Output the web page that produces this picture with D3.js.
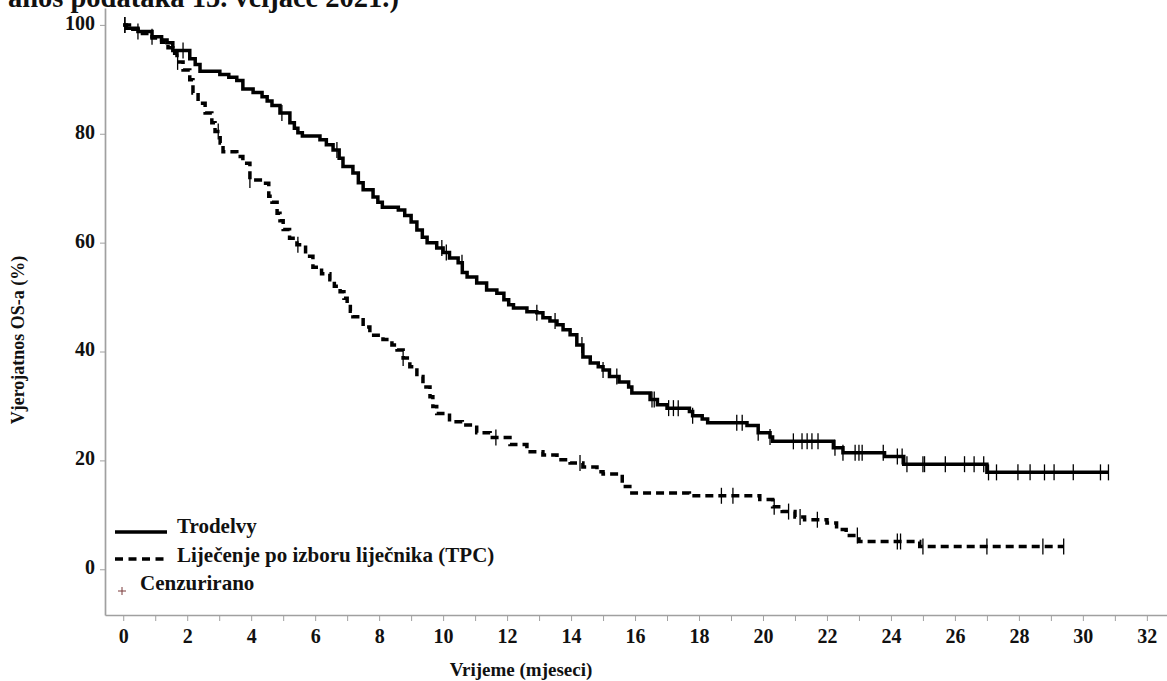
<!DOCTYPE html>
<html>
<head>
<meta charset="utf-8">
<script src="https://cdn.jsdelivr.net/npm/d3@7"></script>
<style>
  body { margin: 0; background: #fff; }
  svg { display: block; }
  text { font-family: "Liberation Serif", "Times New Roman", serif; font-weight: bold; fill: #111; }
  .axis path, .axis line { stroke: #a0a0a0; }
</style>
</head>
<body>
<svg width="1167" height="681"></svg>
<script>
// Kaplan-Meier steps: [months, % survival]
var trodelvySteps = [
  [0,100],[0.1,99.4],[0.46,98.8],[0.9,97.8],[1.2,97.2],[1.37,96.7],[1.55,95.3],[2.08,93.8],
  [2.25,92.7],[2.4,91.5],[3.02,90.9],[3.3,90.4],[3.55,89.8],[3.74,88.2],[4.06,87.6],[4.34,86.8],
  [4.5,86.0],[4.65,85.2],[4.9,83.8],[5.21,82.0],[5.35,81.0],[5.46,80.2],[5.6,79.6],[6.15,78.9],
  [6.35,78.0],[6.56,77.0],[6.75,75.5],[6.87,74.0],[7.18,72.8],[7.35,71.0],[7.5,69.7],[7.81,68.4],
  [7.96,67.4],[8.1,66.5],[8.6,66.0],[8.8,65.0],[9.0,63.8],[9.18,62.3],[9.35,61.0],[9.5,60.0],
  [9.8,59.0],[10.0,58.2],[10.2,57.2],[10.47,56.3],[10.6,54.5],[10.75,53.7],[11.05,52.6],[11.36,51.3],
  [11.68,50.7],[11.9,49.5],[12.05,48.6],[12.2,48.0],[12.62,47.3],[12.93,47.1],[13.12,46.2],[13.34,45.6],
  [13.56,44.9],[13.75,44.0],[13.97,43.1],[14.18,41.2],[14.37,39.0],[14.6,37.9],[14.85,37.2],[15.0,36.6],
  [15.2,35.4],[15.5,34.4],[15.8,33.5],[15.9,32.4],[16.47,31.2],[16.7,30.2],[17.0,29.6],[17.7,29.0],
  [17.8,28.2],[18.1,27.6],[18.27,26.9],[19.5,26.4],[19.85,25.1],[20.22,24.3],[20.3,23.5],[22.2,22.3],
  [22.5,21.4],[23.8,20.7],[24.4,19.3],[27.0,17.8],[30.8,17.8]
];
var trodelvyCensored = [
  0.05,0.46,0.9,1.87,4.96,6.68,9.96,10.1,10.59,12.93,13.5,14.34,15.0,15.43,16.53,16.6,17.05,17.2,
  17.35,17.8,19.18,19.35,19.85,20.22,20.95,21.22,21.38,21.53,21.72,22.25,22.5,22.88,23.0,23.1,23.76,
  24.2,24.35,24.5,25.0,25.05,25.7,26.3,26.6,26.9,27.05,27.3,27.97,28.35,28.8,29.1,29.7,30.55,30.8
];

var tpcSteps = [
  [0,100],[0.3,99.2],[0.6,98.4],[0.9,97.6],[1.2,96.8],[1.4,95.8],[1.55,94.8],[1.68,93.2],[1.87,91.7],
  [2.08,89.9],[2.18,87.5],[2.34,85.6],[2.56,83.8],[2.77,82.0],[2.87,80.4],[3.03,78.3],[3.12,76.7],
  [3.55,75.8],[3.74,74.6],[3.96,71.5],[4.37,70.9],[4.55,68.5],[4.65,67.4],[4.81,65.4],[4.9,64.0],
  [5.0,62.4],[5.2,60.8],[5.43,59.6],[5.7,57.5],[5.93,55.5],[6.2,54.3],[6.46,53.2],[6.6,52.0],[6.78,51.0],
  [6.9,49.8],[7.0,48.6],[7.1,47.4],[7.18,46.4],[7.5,44.5],[7.71,43.0],[8.12,42.2],[8.4,41.2],[8.56,40.3],
  [8.75,38.8],[8.96,37.2],[9.18,35.4],[9.37,33.5],[9.59,31.7],[9.68,29.9],[9.8,28.6],[10.2,27.1],
  [10.6,26.5],[11.05,25.1],[11.47,24.2],[12.09,22.9],[12.62,21.6],[13.12,21.0],[13.56,20.1],[13.97,19.5],
  [14.37,18.8],[14.81,17.9],[15.0,17.5],[15.6,15.2],[15.9,14.0],[17.7,13.5],[19.9,12.8],[20.3,11.5],
  [20.6,10.6],[21.0,9.6],[21.3,9.1],[22.0,8.5],[22.3,7.3],[22.6,6.2],[23.0,5.1],[24.9,4.2],[29.4,4.2]
];
var tpcCensored = [
  0.05,1.7,2.97,3.96,5.46,8.75,11.65,14.28,18.7,19.06,20.35,20.8,21.16,21.7,22.95,24.2,24.3,25.0,
  27.0,28.75,29.4
];

var xTicks = d3.range(0, 33);
var yTicks = [0, 20, 40, 60, 80, 100];
var legendLabels = ['Trodelvy', 'Liječenje po izboru liječnika (TPC)', 'Cenzurirano'];
var titleText = 'anos podataka 15. veljače 2021.)';
var xTitle = 'Vrijeme (mjeseci)';
var yTitle = 'Vjerojatnos OS-a (%)';

let svg = d3.select('svg');

var x = d3.scaleLinear().domain([-0.57, 32.63]).range([105, 1167]),
    y = d3.scaleLinear().domain([-8.4, 103.1]).range([615, 8]);

// title, cut off by the top edge as in the source figure
svg.append('text')
  .attr('x', 399).attr('y', 7)
  .attr('text-anchor', 'end')
  .style('font-size', '28.5px')
  .text(titleText);

// axes
let xAxis = svg.append('g')
  .attr('class', 'axis')
  .attr('transform', 'translate(0,615)')
  .call(d3.axisBottom(x).tickValues(xTicks).tickSize(6).tickSizeOuter(0)
    .tickFormat(d => d % 2 === 0 ? d : ''));
xAxis.select('.domain').attr('stroke-width', 1.7);
xAxis.selectAll('text').attr('y', 28).attr('dy', 0)
  .style('font-size', '20px').style('font-family', '"Liberation Serif", serif').style('fill', '#111');

let yAxis = svg.append('g')
  .attr('class', 'axis')
  .attr('transform', 'translate(105,0)')
  .call(d3.axisLeft(y).tickValues(yTicks).tickSize(5).tickSizeOuter(0));
yAxis.select('.domain').attr('stroke-width', 1.7);
yAxis.selectAll('text').attr('x', -10).attr('dy', '0.22em')
  .style('font-size', '20px').style('font-family', '"Liberation Serif", serif').style('fill', '#111');

// axis titles
svg.append('text')
  .attr('x', 521).attr('y', 676)
  .attr('text-anchor', 'middle')
  .style('font-size', '19px')
  .text(xTitle);

svg.append('text')
  .attr('transform', 'translate(24,340) rotate(-90)')
  .attr('text-anchor', 'middle')
  .style('font-size', '18px')
  .text(yTitle);

// curves
var line = d3.line()
  .x(d => x(d[0]))
  .y(d => y(d[1]))
  .curve(d3.curveStepAfter);

function survivalAt(steps, t) {
  var i = d3.bisector(d => d[0]).right(steps, t) - 1;
  return steps[Math.max(0, i)][1];
}

var series = [
  { steps: trodelvySteps, censored: trodelvyCensored, dash: null },
  { steps: tpcSteps, censored: tpcCensored, dash: '8,5' }
];

series.forEach(function(s) {
  svg.append('path')
    .datum(s.steps)
    .attr('d', line)
    .attr('fill', 'none')
    .attr('stroke', '#000')
    .attr('stroke-width', 3.5)
    .attr('stroke-dasharray', s.dash);

  svg.append('g').selectAll('line')
    .data(s.censored)
    .enter()
    .append('line')
    .attr('x1', d => x(d))
    .attr('x2', d => x(d))
    .attr('y1', d => y(survivalAt(s.steps, d)) - 8)
    .attr('y2', d => y(survivalAt(s.steps, d)) + 8)
    .attr('stroke', '#000')
    .attr('stroke-width', 1.3);
});

// legend
let legend = svg.append('g');
legend.append('line')
  .attr('x1', 115).attr('x2', 167).attr('y1', 532).attr('y2', 532)
  .attr('stroke', '#000').attr('stroke-width', 3.5);
legend.append('line')
  .attr('x1', 115).attr('x2', 167).attr('y1', 559).attr('y2', 559)
  .attr('stroke', '#000').attr('stroke-width', 3.5).attr('stroke-dasharray', '8,5.5');
legend.append('path')
  .attr('d', 'M118,591H126M122,587V595')
  .attr('stroke', '#7a3a3a').attr('stroke-width', 1);

legend.selectAll('text')
  .data(legendLabels)
  .enter()
  .append('text')
  .attr('x', (d, i) => i === 2 ? 140 : 177)
  .attr('y', (d, i) => [533, 562, 590][i])
  .style('font-size', '21px')
  .text(d => d);
</script>
</body>
</html>
